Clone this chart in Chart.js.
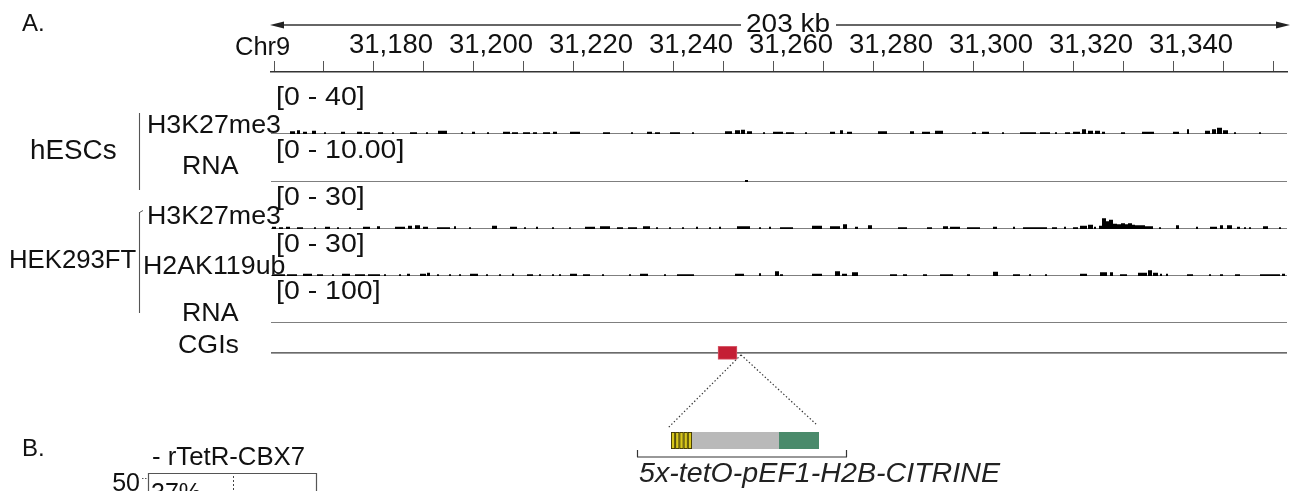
<!DOCTYPE html>
<html>
<head>
<meta charset="utf-8">
<script src="https://cdn.jsdelivr.net/npm/chart.js@4.4.1/dist/chart.umd.min.js"></script>
<style>
  html, body { margin: 0; padding: 0; background: #fff; overflow: hidden; }
  #wrap { position: relative; width: 1297px; height: 491px; }
</style>
</head>
<body>
<div id="wrap"><canvas id="c"></canvas></div>
<script>
// Genomic window on chr9, in kb
const regionStart = 31156.0;
const regionEnd = 31359.2;
const regionLabel = '203 kb';
const chromosome = 'Chr9';

// Ruler labels (kb)
const rulerValues = [31180, 31200, 31220, 31240, 31260, 31280, 31300, 31320, 31340];
const rulerLabels = ['31,180', '31,200', '31,220', '31,240', '31,260', '31,280', '31,300', '31,320', '31,340'];
const rulerMinorStart = 31156.5;   // first 10 kb tick mark
const rulerMinorStep = 10;

// Track names, groups and data ranges
const trackNames = ['H3K27me3', 'RNA', 'H3K27me3', 'H2AK119ub', 'RNA'];
const trackRanges = [40, 10, 30, 30, 100];
const trackRangeLabels = ['[0 - 40]', '[0 - 10.00]', '[0 - 30]', '[0 - 30]', '[0 - 100]'];
const groupNames = ['hESCs', 'HEK293FT'];

// Signal blocks: [start kb, end kb, value]
const hescH3K27me3 = [
  [31159.8,31160.8,2.1],[31161.2,31161.8,2.9],[31162.4,31163.2,1.8],[31164.2,31165.0,2.5],[31166.6,31167.0,1.4],
  [31170.0,31170.8,1.8],[31173.2,31174.2,1.8],[31174.6,31175.8,1.4],[31177.4,31178.4,1.4],[31180.2,31180.6,1.4],
  [31183.8,31185.2,1.4],[31187.0,31187.4,1.4],[31189.4,31191.2,2.5],[31194.0,31194.4,1.4],[31196.2,31196.8,1.8],
  [31199.2,31199.6,1.4],[31202.4,31203.8,1.8],[31204.2,31205.4,1.4],[31206.4,31207.8,1.4],[31208.4,31209.2,1.4],
  [31210.4,31211.8,1.4],[31212.4,31213.2,1.8],[31215.8,31217.8,1.8],[31222.4,31223.8,1.4],[31228.0,31228.4,1.4],
  [31231.2,31232.2,1.8],[31232.8,31233.8,1.4],[31235.8,31237.8,1.4],[31240.2,31240.6,1.4],[31246.8,31248.2,2.1],
  [31248.8,31249.8,2.9],[31250.0,31250.8,3.3],[31251.2,31252.2,2.1],[31254.4,31254.8,1.4],[31256.4,31258.4,1.8],
  [31259.0,31260.6,1.4],[31262.8,31263.2,1.4],[31267.8,31268.8,1.8],[31269.8,31270.4,2.9],[31271.2,31272.2,1.8],
  [31277.4,31279.2,2.1],[31283.8,31284.6,2.1],[31286.2,31287.8,1.8],[31288.8,31290.4,2.5],[31296.2,31297.0,1.4],
  [31298.2,31299.6,1.8],[31302.2,31302.6,1.4],[31305.8,31309.0,1.4],[31309.8,31311.8,1.4],[31312.8,31313.2,1.4],
  [31314.8,31315.8,1.4],[31316.4,31317.8,1.8],[31318.2,31319.0,3.7],[31319.4,31320.4,2.5],[31320.8,31321.8,2.5],
  [31322.2,31322.8,1.8],[31326.0,31326.8,1.4],[31330.2,31332.6,1.8],[31336.4,31337.6,1.8],[31339.2,31339.6,3.7],
  [31342.8,31343.8,2.5],[31344.2,31345.0,3.7],[31345.2,31346.2,4.8],[31346.4,31347.4,2.9],[31348.6,31349.0,1.4],
  [31353.6,31354.0,1.4]
];
const hescRNA = [
  [31250.8,31251.4,0.4]
];
const hekH3K27me3 = [
  [31156.2,31157.0,1.5],[31157.6,31158.4,1.1],[31159.0,31159.8,1.5],[31161.2,31162.4,1.1],[31164.6,31165.0,1.1],
  [31166.8,31167.8,1.5],[31169.2,31169.6,1.1],[31171.6,31172.0,1.1],[31174.4,31175.8,1.5],[31177.2,31177.8,1.8],
  [31180.8,31182.8,1.5],[31183.4,31184.2,2.1],[31184.8,31185.8,2.4],[31186.4,31187.4,1.5],[31189.2,31191.8,1.1],
  [31192.6,31193.0,1.8],[31195.6,31196.0,1.1],[31200.2,31201.2,2.1],[31203.8,31205.2,1.5],[31206.6,31207.0,1.1],
  [31209.0,31209.4,1.5],[31212.2,31212.6,1.1],[31215.6,31216.0,1.1],[31218.8,31220.8,1.5],[31221.8,31223.8,1.8],
  [31225.2,31226.4,1.1],[31227.4,31229.2,1.1],[31230.4,31231.8,1.8],[31233.0,31233.4,1.1],[31235.6,31236.0,1.1],
  [31238.2,31238.6,1.1],[31241.0,31241.4,1.5],[31243.6,31244.0,1.1],[31245.6,31246.0,1.5],[31249.2,31251.8,1.8],
  [31253.6,31254.0,1.1],[31255.6,31256.0,1.5],[31257.8,31260.4,1.1],[31264.2,31266.2,2.1],[31267.8,31269.8,1.8],
  [31270.4,31271.2,3.1],[31272.8,31273.4,1.5],[31275.4,31276.2,2.4],[31281.4,31283.2,1.1],[31287.2,31288.2,1.1],
  [31290.4,31291.4,1.8],[31291.8,31293.8,1.5],[31295.2,31297.8,1.1],[31300.4,31301.2,1.5],[31304.4,31304.8,1.5],
  [31306.4,31311.2,1.1],[31312.2,31313.2,1.1],[31314.6,31315.0,1.5],[31316.4,31317.4,1.1],[31317.8,31319.2,2.1],
  [31319.4,31320.4,2.7],[31320.6,31321.0,1.5],[31321.6,31322.2,2.1],[31322.2,31323.0,6.9],[31323.0,31323.6,5.0],
  [31323.6,31324.4,5.9],[31324.4,31325.2,3.4],[31325.2,31326.0,3.1],[31326.0,31326.8,3.7],[31326.8,31327.4,3.1],
  [31327.4,31328.2,3.7],[31328.2,31328.8,2.7],[31328.8,31330.8,2.4],[31330.8,31332.4,1.8],[31333.6,31334.0,1.1],
  [31337.0,31337.6,2.4],[31341.0,31341.4,1.5],[31343.8,31345.2,1.5],[31345.8,31346.4,2.4],[31347.2,31348.2,2.4],
  [31349.2,31349.8,1.5],[31350.6,31351.0,1.1],[31351.6,31352.0,1.1],[31354.4,31355.4,1.8],[31357.6,31358.0,1.1]
];
const hekH2AK119ub = [
  [31156.2,31158.8,1.1],[31159.2,31161.2,1.1],[31162.4,31164.2,1.5],[31165.2,31166.4,1.1],[31168.2,31168.6,1.1],
  [31170.2,31171.8,1.5],[31172.8,31174.8,1.1],[31175.4,31177.8,1.1],[31178.6,31179.0,1.1],[31181.6,31182.0,1.1],
  [31183.2,31183.8,1.5],[31185.8,31187.0,1.5],[31187.2,31187.8,2.1],[31189.2,31189.6,1.1],[31191.6,31192.0,1.1],
  [31193.6,31194.0,1.1],[31195.8,31197.4,1.5],[31199.0,31199.4,1.1],[31201.6,31202.0,1.1],[31204.2,31204.6,1.5],
  [31207.2,31208.4,1.1],[31209.6,31210.0,1.1],[31212.2,31212.6,1.1],[31213.6,31214.0,1.1],[31215.8,31217.2,1.5],
  [31218.4,31219.8,1.1],[31222.2,31222.6,1.1],[31227.6,31228.0,1.1],[31229.8,31231.4,1.5],[31234.6,31235.0,1.1],
  [31237.2,31240.6,1.1],[31248.8,31250.6,1.5],[31253.6,31254.0,1.8],[31256.8,31257.6,3.1],[31257.8,31258.4,1.1],
  [31264.2,31266.2,1.5],[31268.8,31269.8,3.1],[31270.2,31271.2,1.5],[31272.2,31273.4,2.4],[31279.8,31281.2,1.1],
  [31282.4,31283.2,1.1],[31286.4,31287.2,1.1],[31289.8,31292.4,1.1],[31295.2,31295.8,1.1],[31300.4,31301.4,2.7],
  [31304.4,31305.8,1.1],[31307.6,31308.0,1.1],[31310.8,31311.2,1.1],[31317.8,31319.2,1.5],[31321.8,31323.2,2.4],
  [31323.8,31324.4,2.4],[31325.8,31327.2,1.1],[31329.4,31331.2,2.1],[31331.4,31332.2,3.7],[31332.4,31333.4,2.1],
  [31333.8,31334.2,1.5],[31335.0,31335.4,1.5],[31339.2,31340.4,1.1],[31343.6,31344.0,1.1],[31345.8,31346.4,1.1],
  [31348.8,31349.8,1.1],[31353.8,31357.8,1.1],[31358.2,31358.8,1.5]
];
const hekRNA = [];

// CpG islands: [start kb, end kb]
const cgiFeatures = [[31245.4, 31249.2]];
const constructLabel = '5x-tetO-pEF1-H2B-CITRINE';

const trackSignals = [hescH3K27me3, hescRNA, hekH3K27me3, hekH2AK119ub, hekRNA];
const trackAxisIds = ['y1', 'y2', 'y3', 'y4', 'y5'];

const FONT = "'Liberation Sans', Arial, Helvetica, sans-serif";

// Turn signal blocks into a stepped outline sitting on zero
function blocksToPoints(blocks) {
  const pts = [{ x: regionStart, y: 0 }];
  for (const [s, e, v] of blocks) {
    pts.push({ x: s, y: v }, { x: e, y: 0 });
  }
  pts.push({ x: regionEnd, y: 0 });
  return pts;
}

const datasets = [];
trackSignals.forEach((blocks, i) => {
  datasets.push({
    type: 'line',
    data: blocksToPoints(blocks),
    yAxisID: trackAxisIds[i],
    stepped: true,
    fill: 'origin',
    backgroundColor: '#000',
    borderColor: 'rgba(0,0,0,0)',
    borderWidth: 0,
    pointRadius: 0,
    order: 0
  });
  datasets.push({
    type: 'line',
    data: [{ x: regionStart, y: 0 }, { x: regionEnd, y: 0 }],
    yAxisID: trackAxisIds[i],
    borderColor: '#555',
    borderWidth: 1.6,
    pointRadius: 0,
    fill: false,
    order: 1
  });
});
// CGI track: centre line plus feature blocks
const cgiLevel = 0.23;
datasets.push({
  type: 'line',
  data: [{ x: regionStart, y: cgiLevel }, { x: regionEnd, y: cgiLevel }],
  yAxisID: 'yCGI',
  borderColor: '#3a3a3a',
  borderWidth: 1.4,
  pointRadius: 0,
  fill: false,
  order: 1
});
datasets.push({
  type: 'bar',
  indexAxis: 'y',
  data: cgiFeatures.map(([s, e]) => ({ x: [s, e], y: cgiLevel })),
  xAxisID: 'x',
  yAxisID: 'yCGI',
  backgroundColor: '#c41f35',
  borderColor: '#d65a6a',
  borderWidth: 1,
  borderSkipped: false,
  barThickness: 13,
  grouped: false,
  order: 0
});

// Vertical stack of track axes (pixel heights used as weights)
function trackAxis(max, stackWeight, weight) {
  return {
    type: 'linear', position: 'left', stack: 'tracks', stackWeight, weight,
    min: 0, max, display: false,
    ticks: { display: false }, grid: { display: false }
  };
}
const scales = {
  x: {
    type: 'linear', position: 'top', min: regionStart, max: regionEnd,
    afterFit: (s) => { s.height = 40; },
    afterBuildTicks: (s) => { s.ticks = rulerValues.map(v => ({ value: v })); },
    grid: { display: false, drawTicks: false },
    border: { display: true, color: '#333', width: 1.5 },
    ticks: {
      autoSkip: false, maxRotation: 0, padding: 13, color: '#111',
      font: { family: FONT, size: 27.5, lineHeight: 1 },
      callback: (v, i) => rulerLabels[i]
    }
  },
  yPad: trackAxis(1, 10, 10),
  y1: trackAxis(trackRanges[0], 52, 9),
  y2: trackAxis(trackRanges[1], 48, 8),
  y3: trackAxis(trackRanges[2], 47, 7),
  y4: trackAxis(trackRanges[3], 47, 6),
  y5: trackAxis(trackRanges[4], 47, 5),
  yCGI: trackAxis(1, 47, 4)
};

function drawText(ctx, str, x, y, o) {
  ctx.save();
  ctx.font = (o.italic ? 'italic ' : '') + o.size + 'px ' + FONT;
  ctx.fillStyle = o.color || '#111';
  ctx.textBaseline = 'alphabetic';
  ctx.textAlign = o.align || 'left';
  ctx.translate(x, y);
  ctx.scale(o.stretch || 1, 1);
  ctx.fillText(str, 0, 0);
  ctx.restore();
}
function line(ctx, x1, y1, x2, y2, color, w, dash) {
  ctx.save();
  ctx.strokeStyle = color; ctx.lineWidth = w;
  if (dash) ctx.setLineDash(dash);
  ctx.beginPath(); ctx.moveTo(x1, y1); ctx.lineTo(x2, y2); ctx.stroke();
  ctx.restore();
}

const decorations = {
  id: 'decorations',
  afterDraw(chart) {
    const ctx = chart.ctx;
    const xs = chart.scales.x;
    const area = chart.chartArea;

    // Panel letter
    drawText(ctx, 'A.', 22, 31, { size: 24 });

    // Region width arrow
    const ay = 25;
    const left = xs.getPixelForValue(regionStart) - 1;
    const right = xs.getPixelForValue(regionEnd) + 3;
    const mid = (left + right) / 2 + 8;
    ctx.save();
    ctx.font = '26.5px ' + FONT;
    const tw = ctx.measureText(regionLabel).width * 1.055;
    ctx.restore();
    line(ctx, left + 10, ay, mid - tw / 2 - 5, ay, '#333', 1.3);
    line(ctx, mid + tw / 2 + 6, ay, right - 10, ay, '#333', 1.3);
    ctx.save();
    ctx.fillStyle = '#222';
    ctx.beginPath(); ctx.moveTo(left, ay); ctx.lineTo(left + 14, ay - 3.5); ctx.lineTo(left + 14, ay + 3.5); ctx.closePath(); ctx.fill();
    ctx.beginPath(); ctx.moveTo(right, ay); ctx.lineTo(right - 14, ay - 3.5); ctx.lineTo(right - 14, ay + 3.5); ctx.closePath(); ctx.fill();
    ctx.restore();
    drawText(ctx, regionLabel, mid, 31.5, { size: 26.5, stretch: 1.055, align: 'center' });

    // Chromosome name and 10 kb tick marks
    drawText(ctx, chromosome, 235, 55, { size: 25.5 });
    for (let v = rulerMinorStart; v <= regionEnd; v += rulerMinorStep) {
      const px = Math.round(xs.getPixelForValue(v)) + 0.5;
      line(ctx, px, area.top - 11, px, area.top - 1, '#555', 1);
    }

    // Data range labels, placed from each track's bottom edge
    trackAxisIds.forEach((id, i) => {
      const s = chart.scales[id];
      const off = i === 0 ? 29 : 24;
      drawText(ctx, trackRangeLabels[i], 276, s.bottom - off, { size: 25, stretch: 1.14 });
    });

    // Track names
    const nameOpts = { size: 25.5, stretch: 1.05 };
    drawText(ctx, trackNames[0], 147, 133, nameOpts);
    drawText(ctx, trackNames[1], 182, 174, nameOpts);
    drawText(ctx, trackNames[2], 147, 224, nameOpts);
    drawText(ctx, trackNames[3], 143, 274, nameOpts);
    drawText(ctx, trackNames[4], 182, 320.5, nameOpts);
    drawText(ctx, 'CGIs', 178, 353, nameOpts);

    // Cell type groups with brackets
    drawText(ctx, groupNames[0], 30, 159, { size: 27, stretch: 1.03 });
    drawText(ctx, groupNames[1], 9, 268, { size: 26, stretch: 0.99 });
    line(ctx, 139.5, 113, 139.5, 190, '#555', 1.1);
    line(ctx, 139.5, 212, 139.5, 313, '#555', 1.1);
    line(ctx, 139.5, 212.5, 143, 210.5, '#555', 1);

    // Zoom-out guides from the CGI to the reporter construct
    const ys = chart.scales.yCGI;
    const cgiY = ys.getPixelForValue(cgiLevel);
    const gx = xs.getPixelForValue(cgiFeatures[0][1]) + 4;
    line(ctx, gx, cgiY + 2, 668, 428, '#333', 1.2, [1.4, 2.2]);
    line(ctx, gx, cgiY + 2, 817, 425, '#333', 1.2, [1.4, 2.2]);

    // Reporter construct: 5x tetO, pEF1 promoter, H2B-CITRINE
    const cTop = 432, cH = 17;
    ctx.save();
    ctx.fillStyle = '#b9b9b9'; ctx.fillRect(692, cTop, 87, cH);
    ctx.fillStyle = '#4a8a6b'; ctx.fillRect(779, cTop, 40, cH);
    const sw = 21 / 5;
    for (let k = 0; k < 5; k++) {
      const sx = 671 + k * sw;
      ctx.fillStyle = '#d9c81c';
      ctx.fillRect(sx, cTop, sw, cH);
      ctx.strokeStyle = '#3b3405'; ctx.lineWidth = 0.9;
      ctx.strokeRect(sx + 0.45, cTop + 0.45, sw - 0.9, cH - 0.9);
    }
    ctx.restore();
    line(ctx, 637, 457, 847, 457, '#333', 1.2);
    line(ctx, 637.5, 450, 637.5, 457, '#333', 1.2);
    line(ctx, 846.5, 450, 846.5, 457, '#333', 1.2);
    drawText(ctx, constructLabel, 639, 482, { size: 27, stretch: 1.06, italic: true, color: '#222' });

    // Top of panel B
    drawText(ctx, 'B.', 22, 456, { size: 24 });
    drawText(ctx, '- rTetR-CBX7', 152, 465, { size: 25, stretch: 1.03 });
    ctx.save();
    ctx.strokeStyle = '#555'; ctx.lineWidth = 1.2;
    ctx.beginPath();
    ctx.moveTo(148.5, 495); ctx.lineTo(148.5, 473.5); ctx.lineTo(316.5, 473.5); ctx.lineTo(316.5, 495);
    ctx.stroke();
    ctx.restore();
    line(ctx, 233.5, 476, 233.5, 491, '#444', 1, [2, 2]);
    line(ctx, 142, 478.5, 148, 478.5, '#555', 1, [1.5, 1.5]);
    drawText(ctx, '50', 140, 491, { size: 25, align: 'right' });
    drawText(ctx, '37%', 151, 501, { size: 25 });
  }
};

new Chart(document.getElementById('c'), {
  type: 'line',
  data: { datasets },
  options: {
    responsive: true,
    maintainAspectRatio: false,
    animation: false,
    events: [],
    layout: { padding: { left: 271, right: 10, top: 32, bottom: 121 } },
    plugins: { legend: { display: false }, tooltip: { enabled: false } },
    scales
  },
  plugins: [decorations]
});
</script>
</body>
</html>
